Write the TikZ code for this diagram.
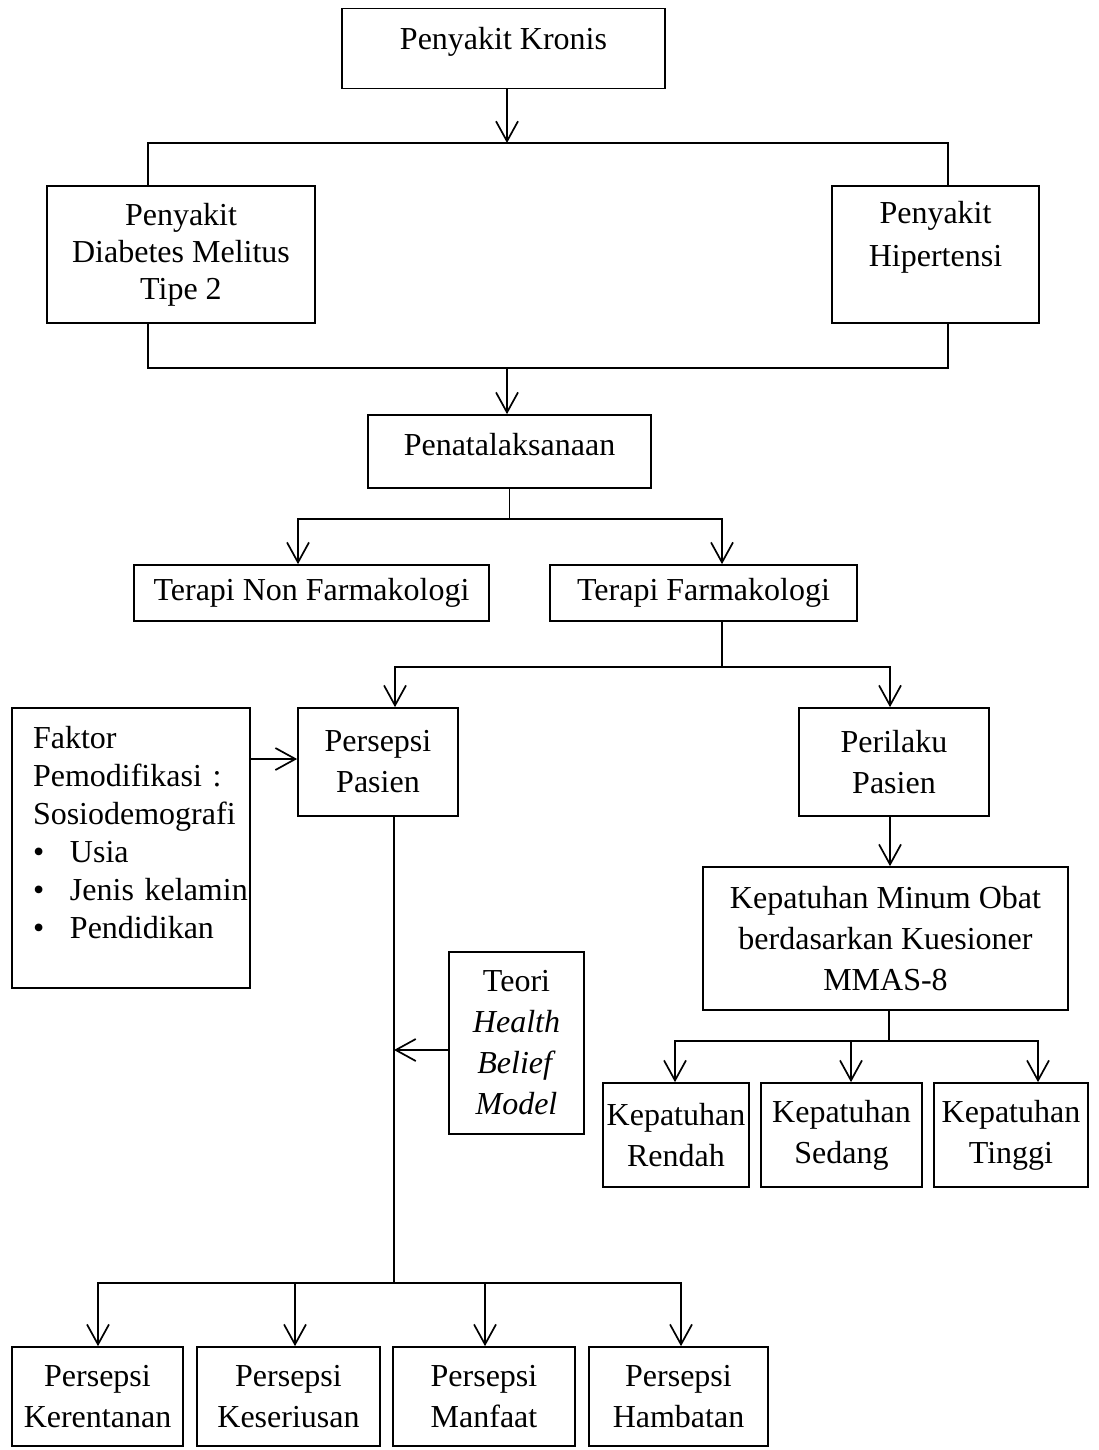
\documentclass[tikz,border=0pt]{standalone}
\usepackage{fontspec}
\setmainfont{Liberation Serif}
\usetikzlibrary{arrows.meta}
\setlength{\parindent}{0pt}
\newcommand{\pushup}[1]{\rule[-#1]{0pt}{0pt}}
\tikzstyle{boxPlain} = [rectangle, draw=black, line width=1.7pt, inner sep=2pt, align=center, font=\fontsize{32pt}{41pt}\selectfont]
\tikzstyle{line} = [line width=1.7pt]
\tikzstyle{arrow} = [line width=1.7pt, ->, >={Straight Barb[length=20pt,width=22pt]}]

\begin{document}
\begin{tikzpicture}[x=1pt, y=-1pt]
\useasboundingbox (0,0) rectangle (1098,1450);

\node (kronis) [boxPlain, minimum width=323pt, minimum height=80pt] at (503.5,48.5) {Penyakit Kronis\pushup{20pt}};

\node (diabetes) [boxPlain, font=\fontsize{32pt}{37pt}\selectfont, minimum width=268pt, minimum height=137pt] at (181,254.5) {Penyakit\\Diabetes Melitus\\Tipe 2};
\node (hipertensi) [boxPlain, font=\fontsize{32pt}{43pt}\selectfont, minimum width=207pt, minimum height=137pt] at (935.5,254.5) {Penyakit\\Hipertensi\pushup{41pt}};

\node (penata) [boxPlain, minimum width=283pt, minimum height=73pt] at (509.5,451.5) {Penatalaksanaan\pushup{15pt}};

\node (nonfarmako) [boxPlain, minimum width=355pt, minimum height=56pt] at (311.5,593) {Terapi Non Farmakologi};
\node (farmako) [boxPlain, minimum width=307pt, minimum height=56pt] at (703.5,593) {Terapi Farmakologi};

\node (faktor) [boxPlain, align=left, text width=196pt, font=\fontsize{32pt}{38pt}\selectfont, minimum width=238pt, minimum height=280pt] at (131,848) {
\mbox{Faktor}\\
\mbox{Pemodifikasi :}\\
\mbox{Sosiodemografi}\\
\mbox{\makebox[37pt][l]{\textbullet}Usia}\\
\mbox{\makebox[37pt][l]{\textbullet}Jenis kelamin}\\
\mbox{\makebox[37pt][l]{\textbullet}Pendidikan}\pushup{32pt}
};

\node (pasien) [boxPlain, minimum width=160pt, minimum height=108pt] at (378,762) {Persepsi\\Pasien};
\node (perilaku) [boxPlain, minimum width=190pt, minimum height=108pt] at (894,762) {Perilaku\\Pasien};

\node (kepatuhan) [boxPlain, minimum width=365pt, minimum height=143pt] at (885.5,938.5) {Kepatuhan Minum Obat\\berdasarkan Kuesioner\\MMAS-8};

\node (teori) [boxPlain, minimum width=135pt, minimum height=182pt] at (516.5,1043) {Teori\\\textit{Health}\\\textit{Belief}\\\textit{Model}};

\node (rendah) [boxPlain, minimum width=146pt, minimum height=104pt] at (676,1135) {Kepatuhan\\Rendah};
\node (sedang) [boxPlain, minimum width=161pt, minimum height=104pt] at (841.5,1135) {Kepatuhan\\Sedang};
\node (tinggi) [boxPlain, minimum width=154pt, minimum height=104pt] at (1011,1135) {Kepatuhan\\Tinggi};

\node (kerentanan) [boxPlain, minimum width=171pt, minimum height=99pt] at (97.5,1396.5) {Persepsi\\Kerentanan};
\node (keseriusan) [boxPlain, minimum width=183pt, minimum height=99pt] at (288.5,1396.5) {Persepsi\\Keseriusan};
\node (manfaat) [boxPlain, minimum width=182pt, minimum height=99pt] at (484,1396.5) {Persepsi\\Manfaat};
\node (hambatan) [boxPlain, minimum width=179pt, minimum height=99pt] at (678.5,1396.5) {Persepsi\\Hambatan};

% branch points
\coordinate (kronisJ) at (507,143);
\coordinate (topL) at (148,143);
\coordinate (topR) at (948,143);
\coordinate (botL) at (148,368);
\coordinate (botR) at (948,368);
\coordinate (botM) at (507,368);
\coordinate (terapiL) at (298,519);
\coordinate (terapiR) at (722,519);
\coordinate (farmakoJ) at (722,667);
\coordinate (pasienJ) at (395,667);
\coordinate (perilakuJ) at (890,667);
\coordinate (modJ) at (0,759);
\coordinate (kepatuhanJ) at (889,1041);
\coordinate (rendahJ) at (675,1041);
\coordinate (sedangJ) at (851,1041);
\coordinate (tinggiJ) at (1038,1041);
\coordinate (hbmJ) at (394,1050);
\coordinate (spineJ) at (394,1283);
\coordinate (kerentananJ) at (98,1283);
\coordinate (keseriusanJ) at (295,1283);
\coordinate (manfaatJ) at (485,1283);
\coordinate (hambatanJ) at (681,1283);

\draw [arrow] (kronis.south -| kronisJ) -- (kronisJ);
\draw [line] (diabetes.north -| topL) -- (topL) -- (topR) -- (hipertensi.north -| topR);
\draw [line] (diabetes.south -| botL) -- (botL) -- (botR) -- (hipertensi.south -| botR);
\draw [arrow] (botM) -- (penata.north -| botM);

\draw [line] (penata.south) -- (penata.south |- terapiL);
\draw [arrow, <->] (nonfarmako.north -| terapiL) -- (terapiL) -- (terapiR) -- (farmako.north -| terapiR);

\draw [line] (farmako.south -| farmakoJ) -- (farmakoJ);
\draw [arrow, <->] (pasien.north -| pasienJ) -- (pasienJ) -- (perilakuJ) -- (perilaku.north -| perilakuJ);
\draw [arrow] (faktor.east |- modJ) -- (pasien.west |- modJ);

\draw [arrow] (perilaku.south -| perilakuJ) -- (kepatuhan.north -| perilakuJ);
\draw [line] (kepatuhan.south -| kepatuhanJ) -- (kepatuhanJ);
\draw [arrow, <->] (rendah.north -| rendahJ) -- (rendahJ) -- (tinggiJ) -- (tinggi.north -| tinggiJ);
\draw [arrow] (sedangJ) -- (sedang.north -| sedangJ);

\draw [line] (pasien.south -| spineJ) -- (spineJ);
\draw [arrow] (teori.west |- hbmJ) -- (hbmJ);
\draw [arrow, <->] (kerentanan.north -| kerentananJ) -- (kerentananJ) -- (hambatanJ) -- (hambatan.north -| hambatanJ);
\draw [arrow] (keseriusanJ) -- (keseriusan.north -| keseriusanJ);
\draw [arrow] (manfaatJ) -- (manfaat.north -| manfaatJ);

\end{tikzpicture}
\end{document}
